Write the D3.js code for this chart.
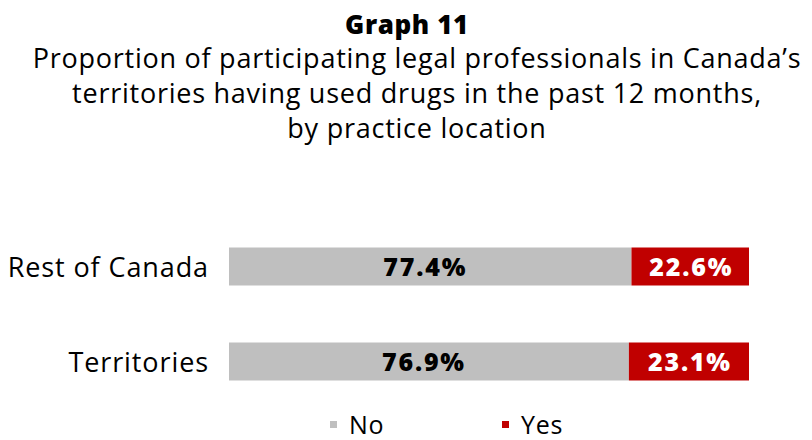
<!DOCTYPE html>
<html>
<head>
<meta charset="utf-8">
<script src="https://cdn.jsdelivr.net/npm/d3@7"></script>
<style>
  html, body { margin: 0; padding: 0; background: #fff; }
  svg text { font-family: "Open Sans", Lato, sans-serif; }
</style>
</head>
<body>
<svg id="chart" width="812" height="440"></svg>
<script>
// Practice locations (top to bottom) and answer shares in percent
const categories = ["Rest of Canada", "Territories"];
const seriesNames = ["No", "Yes"];
const noValues = [77.4, 76.9];
const yesValues = [22.6, 23.1];
const seriesColors = ["#bfbfbf", "#c00000"];
const labelColors = ["#000000", "#ffffff"];
const titleLines = [
  "Proportion of participating legal professionals in Canada\u2019s",
  "territories having used drugs in the past 12 months,",
  "by practice location"
];
const heading = "Graph 11";

const svg = d3.select("#chart");

// Titles
svg.append("text")
  .attr("x", 407).attr("y", 34)
  .attr("text-anchor", "middle")
  .attr("font-size", 26).attr("font-weight", 800)
  .attr("letter-spacing", 0.6)
  .attr("fill", "#000")
  .text(heading);

svg.selectAll("text.sub")
  .data(titleLines)
  .join("text")
  .attr("class", "sub")
  .attr("x", 417)
  .attr("y", (d, i) => 68 + i * 35)
  .attr("text-anchor", "middle")
  .attr("font-size", 27)
  .attr("letter-spacing", 0.75)
  .attr("fill", "#000")
  .text(d => d);

// Stack the series
const rows = categories.map((c, i) => ({ cat: c, No: noValues[i], Yes: yesValues[i] }));
const stacked = d3.stack().keys(seriesNames)(rows);

const x = d3.scaleLinear().domain([0, 100]).range([229, 749]);
const y = d3.scaleBand().domain(categories).range([219, 409]).paddingInner(0.6).paddingOuter(0.3);

const color = d3.scaleOrdinal().domain(seriesNames).range(seriesColors);
const labelColor = d3.scaleOrdinal().domain(seriesNames).range(labelColors);

const groups = svg.selectAll("g.series")
  .data(stacked)
  .join("g")
  .attr("class", "series");

groups.selectAll("rect")
  .data(s => s.map(d => ({ key: s.key, d })))
  .join("rect")
  .attr("x", o => x(o.d[0]))
  .attr("y", o => y(o.d.data.cat))
  .attr("width", o => x(o.d[1]) - x(o.d[0]))
  .attr("height", y.bandwidth())
  .attr("fill", o => color(o.key));

groups.selectAll("text")
  .data(s => s.map(d => ({ key: s.key, d })))
  .join("text")
  .attr("x", o => (x(o.d[0]) + x(o.d[1])) / 2 - (o.key === "No" ? 5 : -1))
  .attr("y", o => y(o.d.data.cat) + y.bandwidth() / 2)
  .attr("dy", "0.36em")
  .attr("text-anchor", "middle")
  .attr("font-size", 25)
  .attr("font-weight", 800)
  .attr("letter-spacing", 1.8)
  .attr("fill", o => labelColor(o.key))
  .text(o => d3.format(".1f")(o.d.data[o.key]) + "%");

// Category axis
const yAxis = svg.append("g")
  .attr("transform", "translate(229,0)")
  .call(d3.axisLeft(y).tickSize(0).tickPadding(20));
yAxis.select(".domain").remove();
yAxis.selectAll("text")
  .attr("font-size", 27)
  .attr("font-family", "'Open Sans', sans-serif")
  .attr("letter-spacing", 0.9)
  .attr("fill", "#000")
  .attr("dy", "0.4em");

// Legend
const legendX = [330, 502];
const legend = svg.selectAll("g.legend")
  .data(seriesNames)
  .join("g")
  .attr("class", "legend")
  .attr("transform", (d, i) => `translate(${legendX[i]},0)`);
legend.append("rect")
  .attr("x", 0).attr("y", 421)
  .attr("width", 7).attr("height", 7)
  .attr("fill", d => color(d));
legend.append("text")
  .attr("x", 19).attr("y", 434)
  .attr("font-size", 25)
  .attr("letter-spacing", 0.8)
  .attr("fill", "#000")
  .text(d => d);
</script>
</body>
</html>
